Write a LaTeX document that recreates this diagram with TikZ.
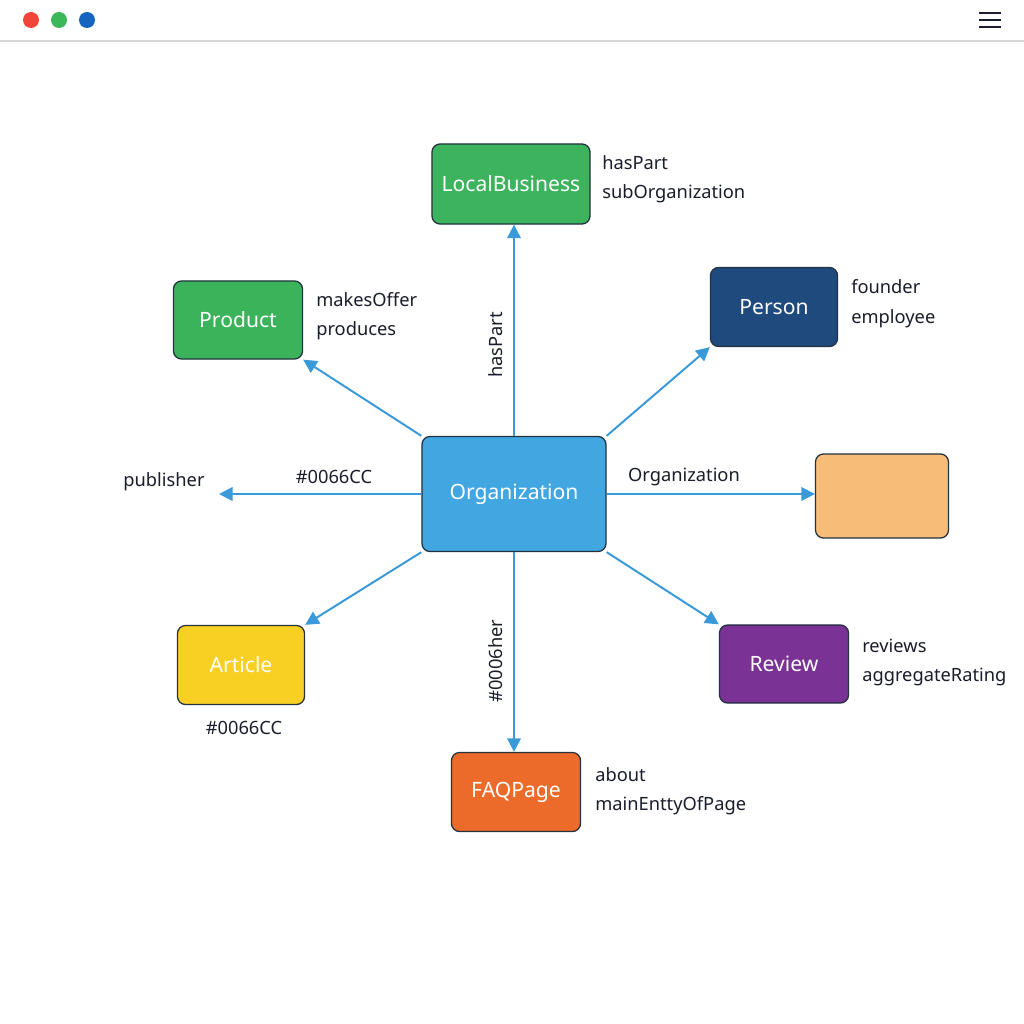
\documentclass[tikz,border=0pt]{standalone}
\usepackage{fontspec}
\setmainfont{Noto Sans}
\usetikzlibrary{arrows.meta}
\definecolor{arrowc}{HTML}{3A9AD9}
\definecolor{edgec}{HTML}{24313F}
\definecolor{cLB}{HTML}{3DB35E}
\definecolor{cProd}{HTML}{3BB35A}
\definecolor{cPerson}{HTML}{1E4A7E}
\definecolor{cOrg}{HTML}{42A6E1}
\definecolor{cOrange}{HTML}{F7BD78}
\definecolor{cArticle}{HTML}{F8D023}
\definecolor{cReview}{HTML}{7A3295}
\definecolor{cFAQ}{HTML}{EC6A2A}
\definecolor{txt}{HTML}{1A1D2A}
\definecolor{dotR}{HTML}{F1453A}
\definecolor{dotG}{HTML}{3DB858}
\definecolor{dotB}{HTML}{1565C0}
\definecolor{sep}{HTML}{D8D8D8}
\tikzset{
  box/.style={draw=edgec, line width=0.9pt, rounded corners=0.2cm, text=white, font=\fontsize{15}{17}\selectfont, inner sep=0pt},
  lab/.style={anchor=west, text=txt, font=\fontsize{13}{15}\selectfont, inner sep=0pt},
  clab/.style={text=txt, font=\fontsize{13}{15}\selectfont, inner sep=0pt},
  conn/.style={draw=arrowc, line width=1.4pt, -{Triangle[length=0.34cm,width=0.34cm]}},
}
\begin{document}
\begin{tikzpicture}[x=0.025cm,y=-0.025cm]
\useasboundingbox[fill=white] (0,0) rectangle (1024,1024);
% top bar
\fill[dotR] (31,20) circle (8);
\fill[dotG] (59,20) circle (8);
\fill[dotB] (87,20) circle (8);
\draw[line width=1.6pt, color=txt] (979,13) -- (1001,13) (979,20) -- (1001,20) (979,27) -- (1001,27);
\draw[line width=1.5pt, color=sep] (0,41) -- (1024,41);
% nodes
\node[box, fill=cOrg, minimum width=4.6cm, minimum height=2.875cm] (org) at (514,494) {Organization};
\node[box, fill=cLB, minimum width=3.95cm, minimum height=2cm] (lb) at (511,184) {LocalBusiness};
\node[box, fill=cProd, minimum width=3.225cm, minimum height=1.95cm] (prod) at (238,320) {Product};
\node[box, fill=cPerson, minimum width=3.175cm, minimum height=1.975cm] (person) at (774,307) {Person};
\node[box, fill=cOrange, minimum width=3.325cm, minimum height=2.1cm] (orange) at (882,496) {};
\node[box, fill=cArticle, minimum width=3.175cm, minimum height=1.975cm] (article) at (241,665) {Article};
\node[box, fill=cReview, minimum width=3.225cm, minimum height=1.95cm] (review) at (784,664) {Review};
\node[box, fill=cFAQ, minimum width=3.225cm, minimum height=1.975cm] (faq) at (516,792) {FAQPage};
\coordinate (pubend) at (219,494);
% connectors
\draw[conn] (org.north) -- (org.north |- lb.south);
\draw[conn] (org.north west) -- (prod.south east);
\draw[conn] (org.north east) -- (person.south west);
\draw[conn] (org.west) -- (pubend);
\draw[conn] (org.east) -- (org.east -| orange.west);
\draw[conn] (org.south west) -- (article.north east);
\draw[conn] (org.south east) -- (review.north west);
\draw[conn] (org.south) -- (org.south |- faq.north);
% labels
\node[lab] (l1) at (602,163) {hasPart};
\node[lab] (l2) at (602,194) {subOrganization};
\node[lab] (l3) at (316,300) {makesOffer};
\node[lab] (l4) at (316,331) {produces};
\node[lab] (l5) at (851,287) {founder};
\node[lab] (l6) at (851,319) {employee};
\node[lab] (l7) at (862,646) {reviews};
\node[lab] (l8) at (862,677) {aggregateRating};
\node[lab] (l9) at (595,775) {about};
\node[lab] (l10) at (595,806) {mainEnttyOfPage};
\node[clab] (l11) at (164,482) {publisher};
\node[clab] (l12) at (334,477) {\#0066CC};
\node[clab] (l13) at (684,477) {Organization};
\node[clab] (l14) at (244,728) {\#0066CC};
\node[clab, rotate=90] (l15) at (496,345) {hasPart};
\node[clab, rotate=90] (l16) at (496,661) {\#0006her};
\end{tikzpicture}
\end{document}
